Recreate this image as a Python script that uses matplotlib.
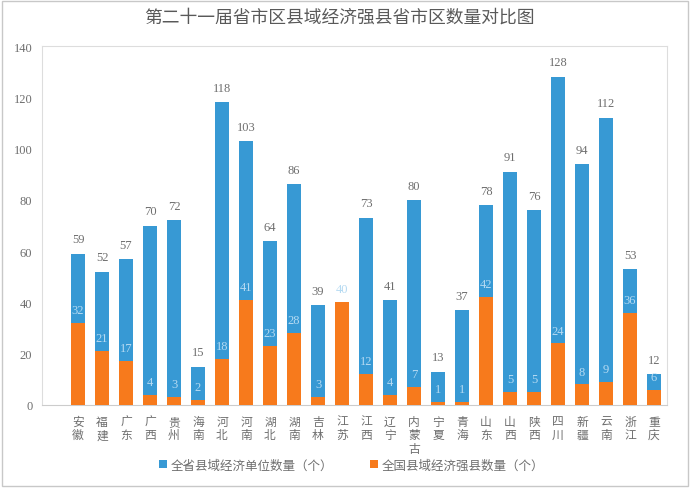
import matplotlib.pyplot as plt
from matplotlib.patches import Rectangle
import numpy as np

provinces = ["安徽", "福建", "广东", "广西", "贵州", "海南", "河北", "河南", "湖北", "湖南",
             "吉林", "江苏", "江西", "辽宁", "内蒙古", "宁夏", "青海", "山东", "山西", "陕西",
             "四川", "新疆", "云南", "浙江", "重庆"]
total_units = [59, 52, 57, 70, 72, 15, 118, 103, 64, 86, 39, 40, 73, 41, 80, 13, 37, 78, 91, 76,
               128, 94, 112, 53, 12]
strong_counts = [32, 21, 17, 4, 3, 2, 18, 41, 23, 28, 3, 40, 12, 4, 7, 1, 1, 42, 5, 5,
                 24, 8, 9, 36, 6]

blue = "#3799D4"
orange = "#F77A1C"
grey = "#6E6E6E"
cjk = ["Noto Sans CJK SC", "DejaVu Sans"]
num_font = "Liberation Serif"

fig = plt.figure(figsize=(6.92, 4.89), dpi=100)
ax = fig.add_axes([42 / 692, 1 - 406 / 489, 625 / 692, 359 / 489])

x = np.arange(len(provinces))
w = 0.58
ax.bar(x, total_units, w, color=blue, label="全省县域经济单位数量（个）", zorder=2)
ax.bar(x, strong_counts, w, color=orange, label="全国县域经济强县数量（个）", zorder=3)

for xi, t, s in zip(x, total_units, strong_counts):
    if t != s:
        ax.annotate(str(t), (xi, t), xytext=(0, 6), textcoords="offset points",
                    ha="center", va="bottom", fontsize=9, color=grey, family=num_font)
    ax.annotate(str(s), (xi, s), xytext=(0, 5), textcoords="offset points",
                ha="center", va="bottom", fontsize=9, color="#B5DAF2", family=num_font, zorder=4)

ax.set_xlim(-1.5, len(provinces) - 0.46)
ax.set_ylim(0, 140)
ax.set_yticks(range(0, 141, 20))
ax.set_yticklabels([str(v) for v in range(0, 141, 20)], family=num_font, fontsize=9, color=grey)
ax.set_xticks(x)
ax.set_xticklabels(["\n".join(p) for p in provinces], family=cjk, fontsize=8.5, color=grey,
                   linespacing=1.05, va="top")
ax.tick_params(axis="y", length=0, pad=7)
ax.tick_params(axis="x", length=0, pad=7)

for side in ["top", "right", "left"]:
    ax.spines[side].set_color("#DDDDDD")
ax.spines["bottom"].set_color("#CCCCCC")

fig.text(0.49, 1 - 18 / 489, "第二十一届省市区县域经济强县省市区数量对比图", ha="center", va="center",
         fontsize=12.8, color="#595959", family=cjk)

leg = fig.legend(loc="center", bbox_to_anchor=(0.508, 1 - 466 / 489), ncol=2, frameon=False,
                 prop={"family": cjk, "size": 9}, handlelength=0.6, handleheight=0.6,
                 columnspacing=3.0, handletextpad=0.3)
for txt in leg.get_texts():
    txt.set_color(grey)

# faint outer frame like the source screenshot
fig.patches.append(Rectangle((2 / 692, 2 / 489), 686 / 692, 485 / 489, transform=fig.transFigure,
                             fill=False, edgecolor="#C8C8C8", linewidth=1.0))

fig.savefig("out.png", dpi=100)
